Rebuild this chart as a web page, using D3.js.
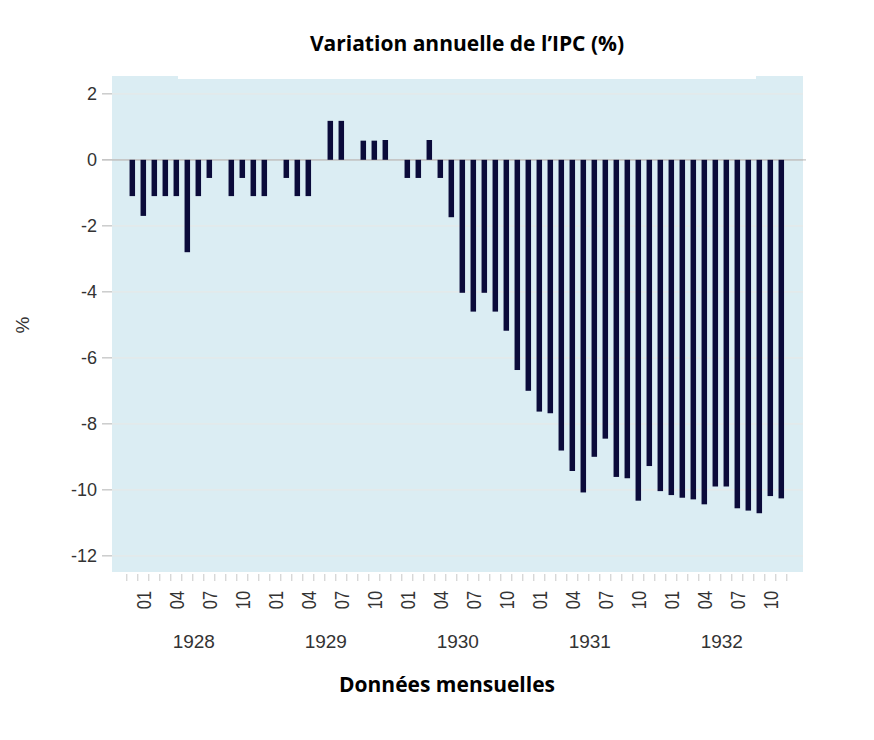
<!DOCTYPE html>
<html><head><meta charset="utf-8">
<script src="https://cdn.jsdelivr.net/npm/d3@7"></script>
<style>body{margin:0;background:#fff}svg{display:block}</style>
</head><body><svg id="c" width="874" height="740"></svg>
<script>
// Months Dec 1927 .. Nov 1932
const months = [];
const startYear = 1927, startMonth = 12;
for (let i = 0; i < 60; i++) {
  const m0 = startMonth - 1 + i;
  months.push({ year: startYear + Math.floor(m0 / 12), month: (m0 % 12) + 1 });
}
const values = [
  -1.1, -1.7, -1.1, -1.1, -1.1, -2.8, -1.1, -0.55, 0, -1.1, -0.55, -1.1,
  -1.1, 0, -0.55, -1.1, -1.1, 0, 1.18, 1.18, 0, 0.58, 0.58, 0.6,
  0, -0.55, -0.55, 0.6, -0.55, -1.74, -4.03, -4.6, -4.03, -4.6, -5.18, -6.37,
  -7.0, -7.63, -7.68, -8.81, -9.43, -10.08, -9.0, -8.45, -9.61, -9.65, -10.33, -9.28,
  -10.04, -10.16, -10.24, -10.29, -10.44, -9.9, -9.9, -10.56, -10.63, -10.71, -10.19, -10.26
];
const yTicks = [2, 0, -2, -4, -6, -8, -10, -12];
const labelMonths = [1, 4, 7, 10];
const years = [1928, 1929, 1930, 1931, 1932];
const title = "Variation annuelle de l\u2019IPC (%)";
const xTitle = "Données mensuelles";
const yTitle = "%";

const svg = d3.select("#c");
const L = 112, R = 803, T = 76, B = 572;
const FONT = "'Liberation Sans', Arial, sans-serif";
const keys = months.map(d => d.year + "-" + d.month);
const x = d3.scaleBand().domain(keys).range([126.8, 786.8]).paddingInner(0.5).paddingOuter(0.25);
const y = d3.scaleLinear().domain([-12, 0]).range([555.8, 159.8]);

// background
svg.append("rect").attr("x", L).attr("y", T).attr("width", R - L).attr("height", B - T).attr("fill", "#dbedf3");
svg.append("rect").attr("x", 178).attr("y", T).attr("width", 756 - 178).attr("height", 3).attr("fill", "#ffffff");

// y grid + ticks
const gy = svg.append("g");
yTicks.forEach(v => {
  gy.append("line").attr("x1", 102).attr("x2", R).attr("y1", y(v)).attr("y2", y(v))
    .attr("stroke", v === 0 ? "#c4c4c4" : "#e6e8e8").attr("stroke-width", 1.3);
  gy.append("line").attr("x1", 102).attr("x2", L).attr("y1", y(v)).attr("y2", y(v))
    .attr("stroke", "#c0c0c0").attr("stroke-width", 1);
  gy.append("text").attr("x", 97).attr("y", y(v)).attr("dy", "0.36em").attr("text-anchor", "end")
    .attr("font-family", FONT).attr("font-size", 18).attr("fill", "#333")
    .text(v);
});
svg.append("line").attr("x1", L).attr("x2", 806).attr("y1", y(0)).attr("y2", y(0)).attr("stroke", "#c4c4c4").attr("stroke-width", 1.3);

// bars
svg.append("g").selectAll("rect").data(values).join("rect")
  .attr("x", (d, i) => x(keys[i]))
  .attr("width", x.bandwidth())
  .attr("y", d => y(Math.max(0, d)))
  .attr("height", d => Math.abs(y(d) - y(0)))
  .attr("fill", "#0b0b3a");

// x ticks at month boundaries
const step = x.step();
const gx = svg.append("g");
for (let i = 0; i <= keys.length; i++) {
  const xx = x(keys[0]) + x.bandwidth() / 2 - step / 2 + i * step;
  gx.append("line").attr("x1", xx).attr("x2", xx).attr("y1", 574).attr("y2", 581)
    .attr("stroke", "#c8c8c8").attr("stroke-width", 1);
}
months.forEach((m, i) => {
  if (labelMonths.includes(m.month) && years.includes(m.year)) {
    const cx = x(keys[i]) + x.bandwidth() / 2;
    gx.append("text").attr("transform", `translate(${cx},591) rotate(-90) scale(0.82,1)`)
      .attr("text-anchor", "end").attr("dy", "0.36em")
      .attr("font-family", FONT).attr("font-size", 20).attr("fill", "#333")
      .text(String(m.month).padStart(2, "0"));
  }
});
years.forEach(yr => {
  const a = x(yr + "-1") + x.bandwidth() / 2, b = x(yr + "-10") + x.bandwidth() / 2;
  gx.append("text").attr("x", (a + b) / 2 + 1).attr("y", 648).attr("text-anchor", "middle")
    .attr("font-family", FONT).attr("font-size", 19).attr("fill", "#333")
    .text(yr);
});

// titles
svg.append("text").attr("x", 467).attr("y", 51).attr("text-anchor", "middle")
  .attr("font-family", "'Open Sans', Lato, sans-serif").attr("font-weight", "bold").attr("font-size", 21).attr("fill", "#000")
  .text(title);
svg.append("text").attr("x", 447).attr("y", 692).attr("text-anchor", "middle")
  .attr("font-family", "'Open Sans', Lato, sans-serif").attr("font-weight", "bold").attr("font-size", 21).attr("fill", "#000")
  .text(xTitle);
svg.append("text").attr("transform", "translate(22,325) rotate(-90)").attr("text-anchor", "middle").attr("dy", "0.36em")
  .attr("font-family", FONT).attr("font-size", 19).attr("fill", "#333")
  .text(yTitle);
</script></body></html>
